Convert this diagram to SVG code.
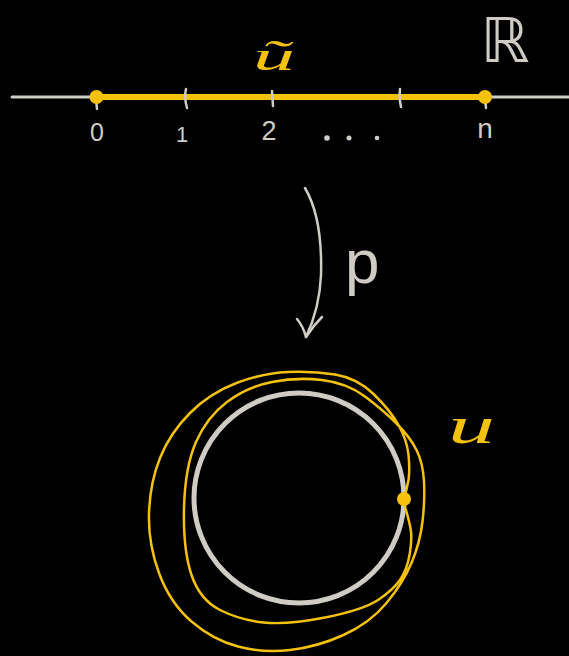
<svg xmlns="http://www.w3.org/2000/svg" width="569" height="656" viewBox="0 0 569 656">
<style>
.g{stroke:#cfccc6;fill:none;stroke-linecap:round;stroke-linejoin:round}
.y{stroke:#f4c20d;fill:none;stroke-linecap:round;stroke-linejoin:round}
.tg{fill:#cfccc6;font-family:"Liberation Sans",Arial,sans-serif}
.ty{fill:#f4c20d;font-family:"Liberation Serif","Times New Roman",serif;font-style:italic}
</style>
<rect x="0" y="0" width="569" height="656" fill="#000"/>
<g id="real-line">
  <line class="g" x1="12" y1="97" x2="569" y2="97" stroke-width="3"/>
  <line class="y" x1="96" y1="97" x2="485" y2="97" stroke-width="6"/>
  <path class="g" stroke-width="2.5" d="M96,99 L97,109 M186,89 Q184,98 187,108 M272,91 L273,106 M400,89 Q399,99 401,107 M485,99 L486,108"/>
  <circle cx="96.5" cy="97" r="7" fill="#f4c20d"/>
  <circle cx="485" cy="97" r="7" fill="#f4c20d"/>
  <text class="tg" x="97" y="141" font-size="25" text-anchor="middle">0</text>
  <text class="tg" x="182" y="142" font-size="22" text-anchor="middle">1</text>
  <text class="tg" x="269" y="140" font-size="27" text-anchor="middle">2</text>
  <circle cx="327" cy="138" r="2.8" fill="#cfccc6"/>
  <circle cx="349" cy="138" r="2.5" fill="#cfccc6"/>
  <circle cx="377" cy="138" r="2.3" fill="#cfccc6"/>
  <text class="tg" x="485" y="138" font-size="28" text-anchor="middle">n</text>
  <text class="ty" x="253" y="70" font-size="42" textLength="42" lengthAdjust="spacingAndGlyphs">ũ</text>
  <text x="505" y="62" font-size="62" text-anchor="middle" fill="#cfccc6" font-family="DejaVu Sans, sans-serif">ℝ</text>
</g>
<g id="connectors">
  <path class="g" stroke-width="2.5" d="M305,188 C318,210 322,240 321,275 C320,300 314,320 306,337"/>
  <path class="g" stroke-width="2.5" d="M297,319 Q303,326 306,337 Q313,326 322,317"/>
  <text class="tg" x="345" y="283" font-size="62">p</text>
</g>
<g id="circle">
  <circle cx="299" cy="498" r="105" class="g" stroke-width="5"/>
  <path class="y" stroke-width="2.5" d="M403,500 Q410,523 411,531.5 Q412,540 409.5,555 Q407,570 400,580 Q393,590 378,600 Q363,610 325,617.5 Q287,625 263.5,622.5 Q240,620 220,610 Q200,600 191.5,575 Q183,550 184,508.5 Q185,467 196,442 Q207,417 227,402 Q247,387 272,382 Q297,377 322,380 Q347,383 365,396.5 Q383,410 396.5,423.5 Q410,437 416.5,450 Q423,463 424,481.5 Q425,500 422.5,521.5 Q420,543 411.5,563 Q403,583 386.5,603 Q370,623 343.5,635 Q317,647 290,650 Q263,653 238,646.5 Q213,640 191.5,621.5 Q170,603 159,573 Q148,543 149,513 Q150,483 160,458 Q170,433 190,413 Q210,393 236.5,383 Q263,373 288,372 Q313,371 335,374.5 Q357,378 373.5,394 Q390,410 398.5,425 Q407,440 408.5,455 Q410,470 408.5,480 Q407,490 403,500"/>
  <circle cx="404" cy="499" r="7" fill="#f4c20d"/>
  <text class="ty" x="448" y="443" font-size="52" textLength="47" lengthAdjust="spacingAndGlyphs">u</text>
</g>
</svg>
